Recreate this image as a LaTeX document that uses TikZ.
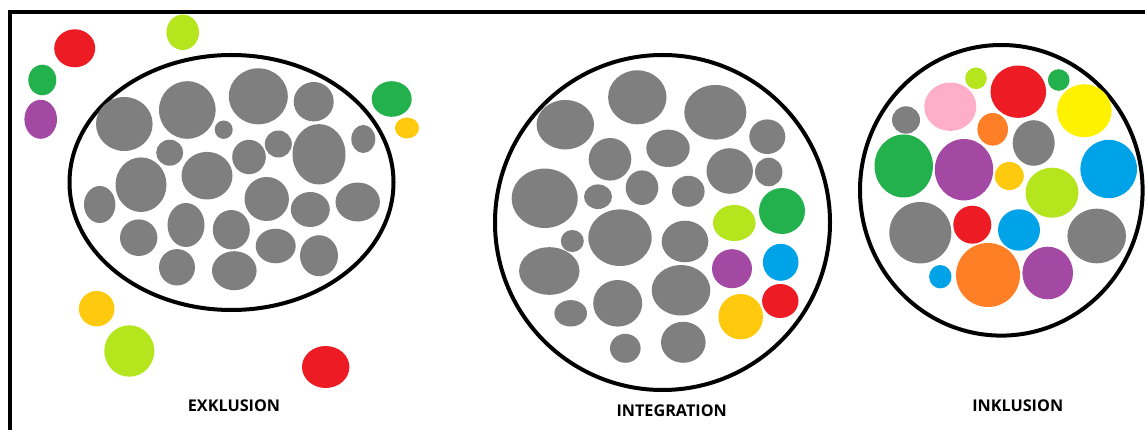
\documentclass[tikz,border=0pt]{standalone}
\usepackage{fontspec}
\setmainfont{Open Sans}
\definecolor{cRed}{HTML}{ED1C24}
\definecolor{cLime}{HTML}{B5E61D}
\definecolor{cGreen}{HTML}{22B14C}
\definecolor{cPurple}{HTML}{A349A4}
\definecolor{cGold}{HTML}{FFC90E}
\definecolor{cBlue}{HTML}{00A2E8}
\definecolor{cGray}{HTML}{7F7F7F}
\definecolor{cPink}{HTML}{FFAEC9}
\definecolor{cYellow}{HTML}{FFF200}
\definecolor{cOrange}{HTML}{FF7F27}
\newcommand{\blobs}[2]{\foreach \x/\y/\a/\b in {#2} {\fill[#1] (\x,\y) ellipse (\a pt and \b pt);}}
\tikzset{ring/.style={draw=black,line width=4pt},
 caption/.style={font=\bfseries\fontsize{16.2}{18}\selectfont,inner sep=0pt,text=black}}
\begin{document}
\begin{tikzpicture}[x=1pt,y=-1pt]
\useasboundingbox (0,0) rectangle (1145,430);
\fill[white] (0,0) rectangle (1145,430);
% frame
\draw[line width=4pt] (9.5,430) -- (9.5,12.5) -- (1145,12.5);
% rings
\draw[ring] (231.5,182.5) ellipse (162pt and 127.5pt);
\draw[ring] (662.5,222.5) ellipse (167.5pt and 167.5pt);
\draw[ring] (1001.3,190.3) ellipse (141.3pt and 145.3pt);
% exclusion
\blobs{cGray}{124.3/124/28.3/27,187.3/110/28.3/28.8,258.3/96.3/29.5/28,313.7/101.7/20/19.7,223.7/129.7/9/9.2,169.7/152.7/13.5/13,141/184.7/25.5/27.3,207/175.7/25.5/23.8,249/157/16.8/17.2,278.3/144/13.5/13.5,319/154.3/26.5/30.2,363.3/139/12/14,99.7/204.5/15.7/18.5,266.7/199/22.2/22,310.3/209.5/19.5/17.5,357.7/202/22.2/19.5,138.7/237.7/18.7/18.3,186/225/18.5/22,231.3/229.7/18.5/19.7,275.7/246/20/17.3,319/255.7/19/20.5,177/267.3/18/18.2,234.3/270.7/22.3/19.5}
\blobs{cRed}{74.7/48.3/20.5/19,325.7/367/23.7/21}
\blobs{cLime}{182.7/32.3/16.3/17.7,129.3/351/25/25.7}
\blobs{cGreen}{42.3/80/14/15.3,391.7/99/20/17.8}
\blobs{cPurple}{40.7/119.3/16.3/19.5}
\blobs{cGold}{407/128/12/10.5,96.7/308.7/17.8/17.7}
% integration
\blobs{cGray}{565.3/124.7/28.7/24.7,637.3/97.3/29.2/27,715.3/112.3/31/27.3,767.3/136.7/18/17.3,610/159.3/21.3/21.3,668/148.3/21.7/18.7,729.7/171/23.2/22.8,768.7/172/13.7/14.3,544.7/198.3/33/29.7,598/196.7/14/12.3,642/187.7/16.3/17.3,688.3/191.3/16.3/15.5,620/237.7/31.7/28.3,685/241.5/23.3/20.8,572.3/241/11.5/11,549.3/271/30.2/23.8,617.7/303.3/24.5/23.3,681/290.3/29.3/25.2,570.7/313.3/16.3/13.2,625.3/348.3/15.3/14.5,683.3/342.3/22.3/20.5}
\blobs{cLime}{734.3/223/21.3/18}
\blobs{cGreen}{782/211/23/23}
\blobs{cPurple}{732/268.7/20/19.5}
\blobs{cBlue}{780.7/262.3/17.8/18.5}
\blobs{cRed}{780.3/301/18.2/17}
\blobs{cGold}{740.7/316.7/22.3/22.7}
% inclusion
\blobs{cGray}{906/120/14/13.7,1033.7/143/21/22.8,920.3/232.7/31/30.7,1096.7/236/29.3/27.3}
\blobs{cLime}{976/78.3/10.8/10.8,1052/192.7/26.5/25}
\blobs{cRed}{1018.3/91.7/27.8/26.2,972.3/224.7/19/19}
\blobs{cGreen}{1058.7/80/10.8/10.8,903.7/166/29.2/31.5}
\blobs{cPink}{950.3/106.7/26/24.2}
\blobs{cYellow}{1084.3/110.7/27.3/26.5}
\blobs{cOrange}{992.7/129.3/15.3/16.3,988/275/32/32}
\blobs{cPurple}{964/169.7/29.2/30.7,1047.7/273/25.3/26.3}
\blobs{cGold}{1009.3/176/14.5/14}
\blobs{cBlue}{1108.7/169/28.3/29.2,1019/230/21/20.7,940.3/276.7/11.2/11.7}
% captions
\node[caption] (exkl) at (234,405.5) {EXKLUSION};
\node[caption] (integ) at (671.7,410.7) {INTEGRATION};
\node[caption] (inkl) at (1017.7,406) {INKLUSION};
\end{tikzpicture}
\end{document}
